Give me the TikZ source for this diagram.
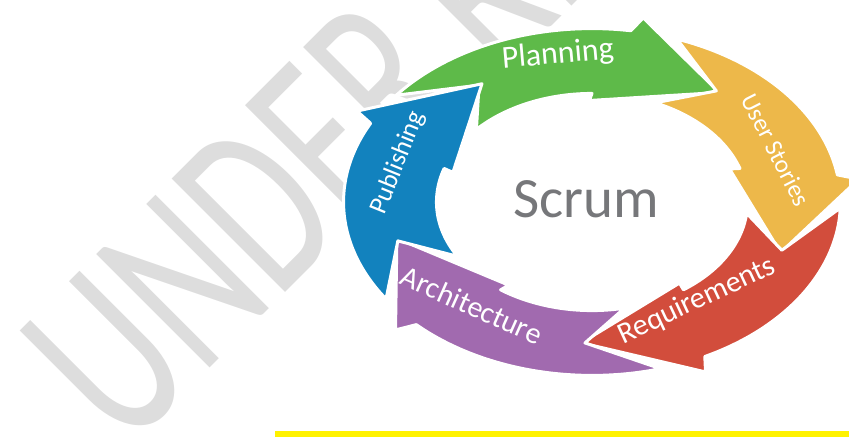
\documentclass[tikz,border=0pt]{standalone}
\usepackage{fontspec}
\setmainfont{Carlito}
\usepackage{graphicx}
\definecolor{verdescrum}{RGB}{94,186,73}
\definecolor{laranjascrum}{RGB}{237,184,74}
\definecolor{vermelhoscrum}{RGB}{210,77,60}
\definecolor{roxoscrum}{RGB}{161,106,175}
\definecolor{azulscrum}{RGB}{18,130,190}
\definecolor{cinzascrum}{RGB}{118,119,122}
\definecolor{marcacinza}{RGB}{221,221,221}
\begin{document}
\begin{tikzpicture}[x=1pt, y=-1pt,
    seta/.style={draw=white, line width=3pt, line join=round},
    rotulo/.style={text=white, inner sep=0pt}]
\useasboundingbox (0,0) rectangle (849,437);
\clip (0,0) rectangle (849,437);
% Marca d'agua
\node at (125,453) (marca) [anchor=base west, rotate=45, inner sep=0pt, text=marcacinza, font=\fontsize{250}{250}\selectfont] {\scalebox{0.67}[1]{UNDER RE}};
% Setas do ciclo
\begin{scope}[shift={(592,202)}, x=202pt, y=-141pt]
\draw[seta, fill=verdescrum] (236:1) -- plot[domain=218:279, samples=20, smooth] (\x:1.23) -- (281:1.33) -- (309:1) -- (269:0.72) -- plot[domain=270:222, samples=20, smooth] (\x:0.77) -- cycle;
\draw[seta, fill=laranjascrum] (308:1) -- plot[domain=290:351, samples=20, smooth] (\x:1.23) -- (353:1.33) -- (381:1) -- (341:0.72) -- plot[domain=342:294, samples=20, smooth] (\x:0.77) -- cycle;
\draw[seta, fill=vermelhoscrum] (380:1) -- plot[domain=362:423, samples=20, smooth] (\x:1.23) -- (425:1.33) -- (453:1) -- (413:0.72) -- plot[domain=414:366, samples=20, smooth] (\x:0.77) -- cycle;
\draw[seta, fill=roxoscrum] (452:1) -- plot[domain=434:495, samples=20, smooth] (\x:1.23) -- (497:1.33) -- (525:1) -- (485:0.72) -- plot[domain=486:438, samples=20, smooth] (\x:0.77) -- cycle;
\draw[seta, fill=azulscrum] (524:1) -- plot[domain=506:567, samples=20, smooth] (\x:1.23) -- (569:1.33) -- (597:1) -- (557:0.72) -- plot[domain=558:510, samples=20, smooth] (\x:0.77) -- cycle;
\end{scope}
% Rotulos
\node at (558,55) (planning) [rotulo, rotate=5, font=\fontsize{32}{32}\selectfont] {Planning};
\node at (776,150) (userstories) [rotulo, rotate=-63, font=\fontsize{25}{25}\selectfont] {User Stories};
\node at (697,301) (requirements) [rotulo, rotate=25, font=\fontsize{30}{30}\selectfont] {Requirements};
\node at (472,305) (architecture) [rotulo, rotate=-24, font=\fontsize{30}{30}\selectfont] {Architecture};
\node at (398,163) (publishing) [rotulo, rotate=68, font=\fontsize{26}{26}\selectfont] {Publishing};
\node at (586,199) (scrum) [text=cinzascrum, inner sep=0pt, font=\fontsize{57}{57}\selectfont] {Scrum};
% Linha amarela
\fill[yellow] (275,431) rectangle (849,437);
\end{tikzpicture}
\end{document}
